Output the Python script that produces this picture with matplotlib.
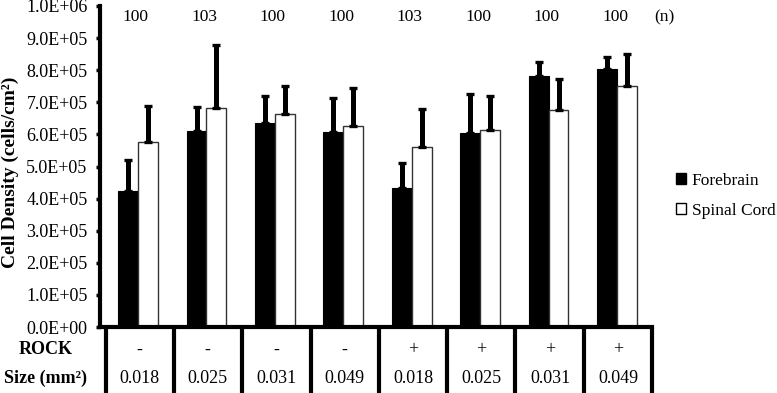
import matplotlib.pyplot as plt
import numpy as np
from matplotlib.patches import Patch
from matplotlib.transforms import blended_transform_factory

plt.rcParams['font.family'] = ['Liberation Serif', 'DejaVu Serif']

rock = ["-", "-", "-", "-", "+", "+", "+", "+"]
sizes = ["0.018", "0.025", "0.031", "0.049", "0.018", "0.025", "0.031", "0.049"]
n_counts = ["100", "103", "100", "100", "103", "100", "100", "100"]

forebrain = [4.25e5, 6.10e5, 6.37e5, 6.06e5, 4.33e5, 6.05e5, 7.82e5, 8.03e5]
forebrain_err = [0.95e5, 0.75e5, 0.83e5, 1.06e5, 0.79e5, 1.22e5, 0.45e5, 0.37e5]
spinal = [5.76e5, 6.83e5, 6.62e5, 6.26e5, 5.62e5, 6.14e5, 6.77e5, 7.50e5]
spinal_err = [1.14e5, 1.97e5, 0.88e5, 1.20e5, 1.18e5, 1.06e5, 0.97e5, 1.00e5]

fig = plt.figure(figsize=(7.77, 3.93), dpi=100)
ax = fig.add_axes([100 / 777, 66 / 393, 552 / 777, 321 / 393])

x = np.arange(len(rock))
w = 0.29
err_kw = dict(elinewidth=3.6, capsize=3, capthick=2.4, ecolor="black")
ax.bar(x - w / 2, forebrain, w, color="black", edgecolor="black", linewidth=0.8,
       yerr=[np.zeros(len(x)), forebrain_err], error_kw=err_kw, zorder=2)
ax.bar(x + w / 2, spinal, w, color="white", edgecolor="#333333", linewidth=1.0,
       yerr=[np.zeros(len(x)), spinal_err], error_kw=err_kw, zorder=2)

ax.set_xlim(-0.555, 7.51)
ax.set_ylim(0, 1.0e6)
ticks = np.arange(0, 1.0e6 + 1, 1.0e5)
ax.set_yticks(ticks)
ax.set_yticklabels([f"{v:.1E}" for v in ticks], fontsize=13)
ax.set_xticks([])
ax.tick_params(axis="y", length=3, width=2.5, pad=6)
for s in ["top", "right"]:
    ax.spines[s].set_visible(False)
ax.spines["left"].set_linewidth(3)
ax.spines["bottom"].set_linewidth(3)

fig.text(10 / 777, (393 - 172) / 393, "Cell Density (cells/cm²)", rotation=90,
         ha="center", va="center", fontsize=14, fontweight="bold")

# n labels above groups
for xi, n in zip(x, n_counts):
    ax.text(xi - 0.03, 0.966e6, n, ha="center", va="center", fontsize=12.5)
ax.text(7.55, 0.966e6, "(n)", ha="left", va="center", fontsize=12.5, clip_on=False)

# table under the axis
tr = blended_transform_factory(ax.transData, ax.transAxes)
for b in np.linspace(-0.47, 7.51, 9):
    ax.plot([b, b], [0, -0.3], color="black", lw=3, transform=tr, clip_on=False,
            solid_capstyle="butt")
for xi, r, s in zip(x, rock, sizes):
    ax.text(xi + 0.02, -0.072, r, ha="center", va="center", fontsize=13, transform=tr)
    ax.text(xi + 0.02, -0.159, s, ha="center", va="center", fontsize=13, transform=tr)
fig.text(46 / 777, (393 - 350) / 393, "ROCK", ha="center", va="center",
         fontsize=13, fontweight="bold")
fig.text(46 / 777, (393 - 378) / 393, "Size (mm²)", ha="center", va="center",
         fontsize=13, fontweight="bold")

handles = [Patch(facecolor="black", edgecolor="black"),
           Patch(facecolor="white", edgecolor="black")]
fig.legend(handles, ["Forebrain", "Spinal Cord"], loc="center left",
           bbox_to_anchor=(676 / 777, (393 - 196) / 393), frameon=False,
           borderpad=0, borderaxespad=0,
           fontsize=12.5, handlelength=0.6, handleheight=0.6, handletextpad=0.3,
           labelspacing=0.8)

fig.savefig("out.png", dpi=100)
